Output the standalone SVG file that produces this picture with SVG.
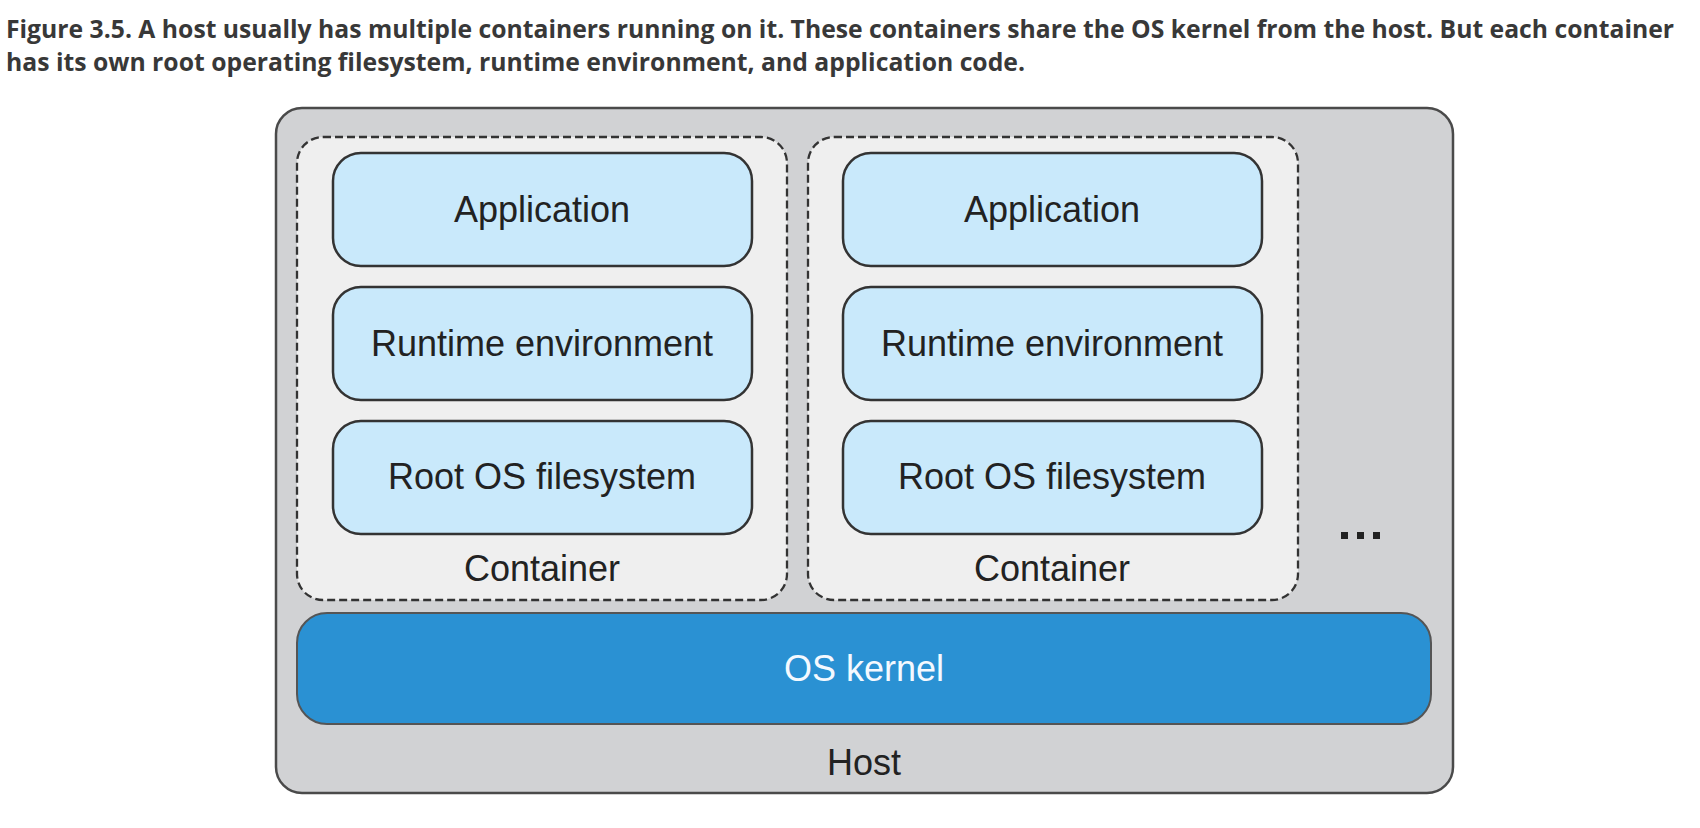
<svg xmlns="http://www.w3.org/2000/svg" width="1700" height="828" viewBox="0 0 1700 828">
<style>
.cap{font-family:"Open Sans","Liberation Sans",sans-serif;font-weight:bold;font-size:25px;fill:#383838}
.host{fill:#d1d2d4;stroke:#4a4a4a;stroke-width:2.5}
.cont{fill:#efefef;stroke:#333;stroke-width:2.3;stroke-dasharray:8 4}
.layer{fill:#c9e9fb;stroke:#333;stroke-width:2.5}
.kernel{fill:#2a91d3;stroke:#555;stroke-width:2}
.lbl{font-family:"Liberation Sans",Arial,sans-serif;font-size:36px;fill:#222;text-anchor:middle}
.wlbl{font-family:"Liberation Sans",Arial,sans-serif;font-size:36px;fill:#f4f9ff;text-anchor:middle}
</style>
<rect width="1700" height="828" fill="#fff"/>
<g id="caption">
<text class="cap" x="6" y="38" textLength="1668" lengthAdjust="spacingAndGlyphs">Figure 3.5. A host usually has multiple containers running on it. These containers share the OS kernel from the host. But each container</text>
<text class="cap" x="6" y="71" textLength="1019" lengthAdjust="spacingAndGlyphs">has its own root operating filesystem, runtime environment, and application code.</text>
</g>
<g id="host">
<rect class="host" x="276" y="108" width="1177" height="685" rx="26"/>
<text class="lbl" x="864" y="775">Host</text>
</g>
<g id="container1">
<rect class="cont" x="297" y="137" width="490" height="463" rx="26"/>
<text class="lbl" x="542" y="581">Container</text>
</g>
<g id="app1">
<rect class="layer" x="333" y="153" width="419" height="113" rx="28"/>
<text class="lbl" x="542" y="222">Application</text>
</g>
<g id="runtime1">
<rect class="layer" x="333" y="287" width="419" height="113" rx="28"/>
<text class="lbl" x="542" y="356">Runtime environment</text>
</g>
<g id="rootfs1">
<rect class="layer" x="333" y="421" width="419" height="113" rx="28"/>
<text class="lbl" x="542" y="489">Root OS filesystem</text>
</g>
<g id="container2">
<rect class="cont" x="808" y="137" width="490" height="463" rx="26"/>
<text class="lbl" x="1052" y="581">Container</text>
</g>
<g id="app2">
<rect class="layer" x="843" y="153" width="419" height="113" rx="28"/>
<text class="lbl" x="1052" y="222">Application</text>
</g>
<g id="runtime2">
<rect class="layer" x="843" y="287" width="419" height="113" rx="28"/>
<text class="lbl" x="1052" y="356">Runtime environment</text>
</g>
<g id="rootfs2">
<rect class="layer" x="843" y="421" width="419" height="113" rx="28"/>
<text class="lbl" x="1052" y="489">Root OS filesystem</text>
</g>
<g id="more">
<rect x="1341" y="532" width="7" height="7" fill="#222"/>
<rect x="1357" y="532" width="7" height="7" fill="#222"/>
<rect x="1373" y="532" width="7" height="7" fill="#222"/>
</g>
<g id="kernel">
<rect class="kernel" x="297" y="613" width="1134" height="111" rx="30"/>
<text class="wlbl" x="864" y="681">OS kernel</text>
</g>
<g id="connectors"></g>
</svg>
